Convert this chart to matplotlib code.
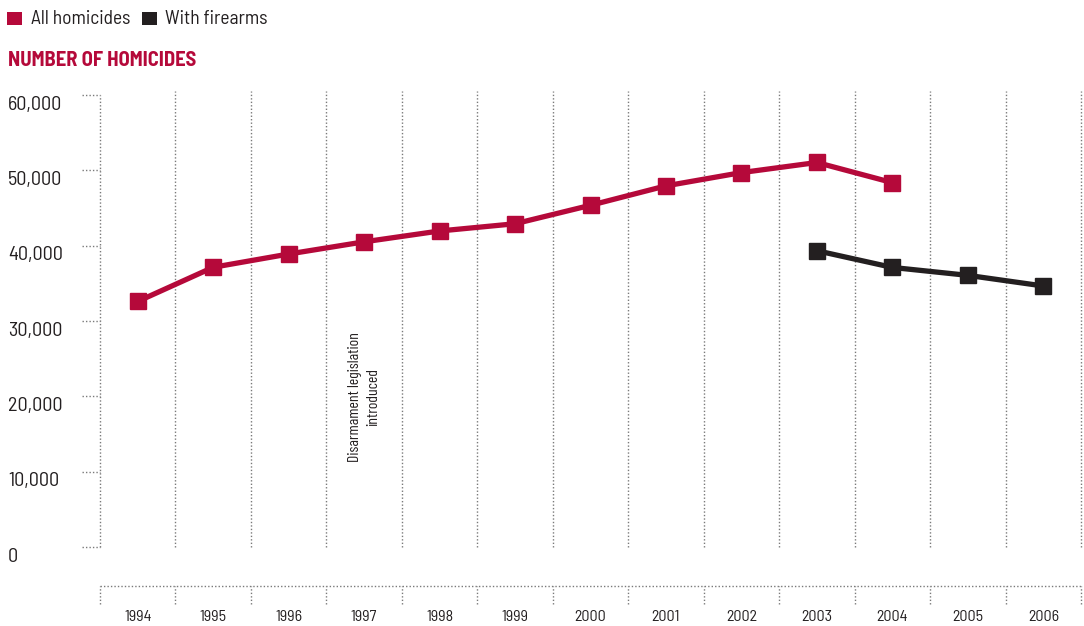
import matplotlib
matplotlib.use("Agg")
import os
import matplotlib.pyplot as plt
import matplotlib.transforms as mtransforms
from matplotlib.patches import Rectangle
from matplotlib import font_manager

# ---------------- data ----------------
years = [1994, 1995, 1996, 1997, 1998, 1999, 2000, 2001, 2002, 2003, 2004, 2005, 2006]
all_years = [1994, 1995, 1996, 1997, 1998, 1999, 2000, 2001, 2002, 2003, 2004]
all_homicides = [32600, 37130, 38890, 40510, 41950, 42910, 45360, 47940, 49700, 51040, 48370]
fire_years = [2003, 2004, 2005, 2006]
firearm_homicides = [39330, 37110, 36060, 34650]
y_ticks = [0, 10000, 20000, 30000, 40000, 50000, 60000]
y_tick_labels = ["0", "10,000", "20,000", "30,000", "40,000", "50,000", "60,000"]
legend_labels = ["All homicides", "With firearms"]
title = "NUMBER OF HOMICIDES"
annotation = "Disarmament legislation\nintroduced"

RED = "#B5093A"
BLACK = "#231F20"
GRID = "#7a7a7a"

def fp(fname, fallback_weight="normal"):
    for f in font_manager.fontManager.ttflist:
        if os.path.basename(f.fname) == fname:
            return font_manager.FontProperties(fname=f.fname)
    return font_manager.FontProperties(family="DejaVu Sans", weight=fallback_weight, stretch="condensed")

F_REG = fp("BarlowSemiCondensed-Regular.ttf")
F_BOLD = fp("BarlowSemiCondensed-Bold.ttf", "bold")
F_NARROW = fp("BarlowCondensed-Regular.ttf")

W, H = 1084, 626
fig = plt.figure(figsize=(W / 100, H / 100), dpi=100)

def fx(px):
    return px / W

def fy(py):
    return 1 - py / H

# main axes: x 100..1081 px, y 95 (60k) .. 547 (0)
ax = fig.add_axes([fx(100), fy(547), fx(1081) - fx(100), fy(95) - fy(547)])
ax.set_xlim(years[0] - 0.5, years[-1] + 0.5)
ax.set_ylim(0, 60000)
ax.axis("off")

DOT = (0, (1, 1.5))
for yr in years:
    b = yr + 0.5
    ax.plot([b, b], [0, 60500], color=GRID, lw=1.0, ls=DOT, clip_on=False, zorder=1)
ax.plot([years[0] - 0.5] * 2, [0, 60000], color=GRID, lw=1.0, ls=DOT, clip_on=False, zorder=1)

tick_tr = mtransforms.blended_transform_factory(fig.transFigure, ax.transData)
lab_tr = tick_tr + mtransforms.ScaledTranslation(0, -9.5 / 100, fig.dpi_scale_trans)
for v, lab in zip(y_ticks, y_tick_labels):
    ax.plot([fx(82), fx(100)], [v, v], transform=tick_tr, color=GRID, lw=1.0,
            ls=DOT, clip_on=False)
    ax.text(fx(8), v, lab, transform=lab_tr, ha="left", va="center",
            fontproperties=F_REG, fontsize=14.5, color=BLACK)

ax.plot(all_years, all_homicides, color=RED, lw=3.8, marker="s", ms=11.5,
        solid_joinstyle="miter", zorder=3, clip_on=False)
ax.plot(fire_years, firearm_homicides, color=BLACK, lw=3.8, marker="s", ms=11.5,
        solid_joinstyle="miter", zorder=3, clip_on=False)

ax.text(1997.0, 19900, annotation, rotation=90, ha="center", va="center",
        multialignment="center", fontproperties=F_NARROW, fontsize=11.3,
        color=BLACK, linespacing=1.45)

# bottom x-axis strip: y 586..604
ax2 = fig.add_axes([fx(100), fy(604), fx(1081) - fx(100), fy(586) - fy(604)])
ax2.set_xlim(ax.get_xlim())
ax2.set_ylim(0, 1)
ax2.axis("off")
ax2.plot([years[0] - 0.5, years[-1] + 0.5], [1, 1], color=GRID, lw=1.0, ls=DOT, clip_on=False)
for b in [years[0] - 0.5] + [yr + 0.5 for yr in years]:
    ax2.plot([b, b], [0, 1], color=GRID, lw=1.0, ls=DOT, clip_on=False)
xl_tr = mtransforms.blended_transform_factory(ax2.transData, fig.transFigure)
for yr in years:
    ax2.text(yr, fy(617), str(yr), transform=xl_tr, ha="center", va="center",
             fontproperties=F_REG, fontsize=11.5, color=BLACK)

# legend
fig.patches.append(Rectangle((fx(7), fy(25)), fx(15), fy(12) - fy(25), transform=fig.transFigure,
                             facecolor=RED, edgecolor="none"))
fig.text(fx(31), fy(18.5), legend_labels[0], ha="left", va="center",
         fontproperties=F_REG, fontsize=14, color=BLACK)
fig.patches.append(Rectangle((fx(142), fy(25)), fx(15), fy(12) - fy(25), transform=fig.transFigure,
                             facecolor=BLACK, edgecolor="none"))
fig.text(fx(165), fy(18.5), legend_labels[1], ha="left", va="center",
         fontproperties=F_REG, fontsize=14, color=BLACK)

fig.text(fx(8), fy(61), title, ha="left", va="center", fontproperties=F_BOLD,
         fontsize=14.8, color=RED)

fig.savefig("out.png", dpi=100)
